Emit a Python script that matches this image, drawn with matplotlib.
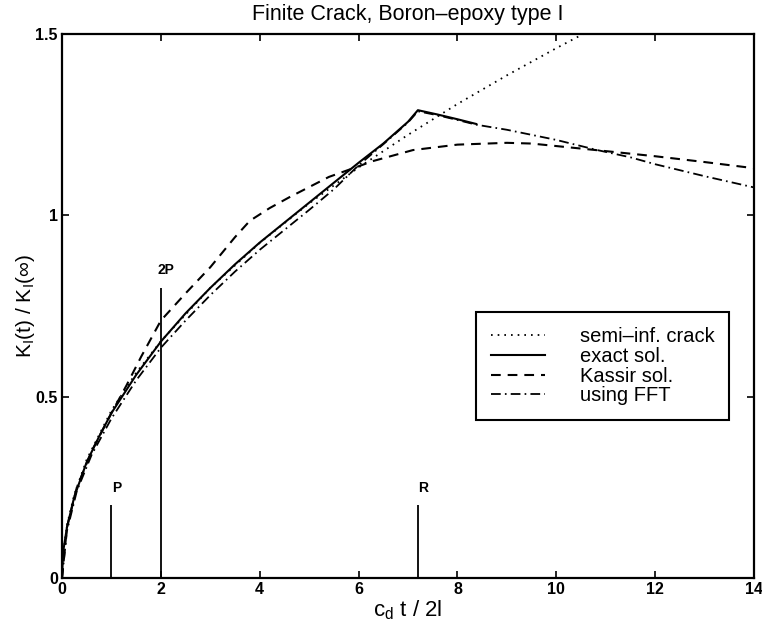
import matplotlib
matplotlib.use("Agg")
import matplotlib.pyplot as plt

plt.rcParams['font.family'] = ['Liberation Sans', 'DejaVu Sans']
plt.rcParams['lines.scale_dashes'] = False

# semi-infinite crack (dotted)
semi_x = [0, 0.02, 0.1, 0.25, 0.5, 1, 1.5, 2, 3, 4, 5, 6, 7, 8, 9, 10, 10.6]
semi_y = [0, 0.065, 0.146, 0.231, 0.327, 0.462, 0.566, 0.653, 0.800, 0.924,
          1.033, 1.132, 1.222, 1.307, 1.386, 1.461, 1.504]

# exact solution (solid)
exact_x = [0, 0.02, 0.1, 0.25, 0.5, 0.75, 1, 1.5, 2, 2.5, 3, 3.5, 4, 4.5, 5,
           5.5, 6, 6.5, 7, 7.2, 7.6, 8.0, 8.38]
exact_y = [0, 0.07, 0.14, 0.225, 0.32, 0.39, 0.455, 0.56, 0.652, 0.73, 0.80,
           0.865, 0.925, 0.98, 1.035, 1.09, 1.145, 1.198, 1.258, 1.29, 1.278,
           1.265, 1.252]

# Kassir solution (dashed)
kassir_x = [0, 0.1, 0.3, 0.6, 1.0, 1.3, 1.6, 2.0, 2.5, 3.0, 3.5, 3.8, 4.2,
            4.6, 5.4, 6.3, 7.1, 8.0, 9.0, 9.5, 10.8, 12, 13, 14]
kassir_y = [0, 0.14, 0.25, 0.35, 0.455, 0.53, 0.61, 0.71, 0.785, 0.857, 0.94,
            0.985, 1.02, 1.05, 1.106, 1.15, 1.18, 1.195, 1.2, 1.198, 1.18,
            1.163, 1.147, 1.13]

# using FFT (dash-dot)
fft_x = [0, 0.1, 0.3, 0.6, 1.0, 1.5, 2.0, 2.5, 3.0, 3.5, 4.0, 4.5, 5.0, 5.5,
         6.0, 6.5, 7.0, 7.2, 7.6, 8.0, 8.38, 9.0, 9.5, 10, 10.83, 11.5, 12,
         13, 14]
fft_y = [0, 0.13, 0.24, 0.34, 0.44, 0.545, 0.635, 0.71, 0.78, 0.845, 0.905,
         0.96, 1.015, 1.072, 1.138, 1.196, 1.256, 1.287, 1.276, 1.263, 1.25,
         1.236, 1.222, 1.208, 1.18, 1.16, 1.141, 1.108, 1.077]

# wave arrival markers
mark_x = [1, 2, 7.2]
mark_h = [0.2, 0.8, 0.2]
mark_lab = ['P', '2P', 'R']

legend_labels = ['semi\u2013inf. crack', 'exact sol.', 'Kassir sol.', 'using FFT']

fig = plt.figure(figsize=(7.62, 6.30), dpi=100)
ax = fig.add_axes([0.0814, 0.0825, 0.9081, 0.8635])

ax.plot(semi_x, semi_y, color='black', lw=1.3, linestyle=(0, (1.2, 3.6)),
        label=legend_labels[0])
ax.plot(exact_x, exact_y, color='black', lw=1.5, linestyle='-',
        label=legend_labels[1])
ax.plot(kassir_x, kassir_y, color='black', lw=1.5, linestyle=(0, (7, 5)),
        label=legend_labels[2])
ax.plot(fft_x, fft_y, color='black', lw=1.3, linestyle=(0, (7, 3, 1.2, 3)),
        label=legend_labels[3])

ax.vlines(mark_x, 0, mark_h, color='black', lw=1.3)
for x, h, lab in zip(mark_x, mark_h, mark_lab):
    ax.text(x + 0.1, h + 0.03, lab, ha='center', va='bottom',
            fontsize=10, fontweight='bold')

ax.set_xlim(0, 14)
ax.set_ylim(0, 1.5)
ax.set_xticks([0, 2, 4, 6, 8, 10, 12, 14])
ax.set_xticklabels(['0', '2', '4', '6', '8', '10', '12', '14'])
ax.set_yticks([0, 0.5, 1, 1.5])
ax.set_yticklabels(['0', '0.5', '1', '1.5'])
ax.tick_params(direction='in', top=True, right=True, length=5, width=1.2,
               labelsize=11.5)
ax.tick_params(axis='x', pad=3)
ax.tick_params(axis='y', pad=3)
for lab in ax.get_xticklabels() + ax.get_yticklabels():
    lab.set_fontweight('bold')
for sp in ax.spines.values():
    sp.set_linewidth(1.6)

ax.set_title('Finite Crack, Boron\u2013epoxy type I', fontsize=15.5, pad=10)
ax.set_xlabel('c$_\\mathregular{d}$ t / 2l', fontsize=16, labelpad=1)
ax.set_ylabel('K$_\\mathregular{I}$(t) / K$_\\mathregular{I}$(\u221e)',
              fontsize=15)
ax.yaxis.set_label_coords(-0.036, 0.5)

leg = ax.legend(loc='lower left', bbox_to_anchor=(0.598, 0.29), fontsize=14.5,
                frameon=True, fancybox=False, framealpha=1, edgecolor='black',
                handlelength=2.7, handletextpad=1.7, labelspacing=0.03,
                borderpad=0.75, borderaxespad=0)
leg.get_frame().set_linewidth(1.5)

fig.savefig('out.png', dpi=100)
